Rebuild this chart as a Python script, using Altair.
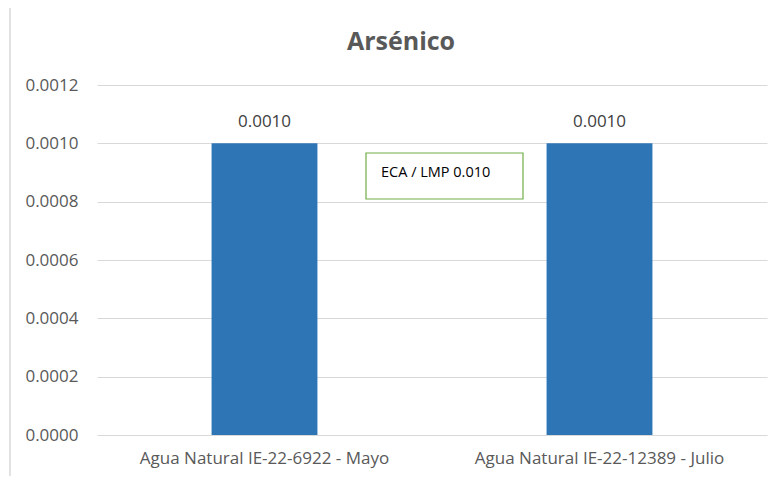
import altair as alt
import pandas as pd

categories = ["Agua Natural IE-22-6922 - Mayo", "Agua Natural IE-22-12389 - Julio"]
values = [0.0010, 0.0010]
labels = ["0.0010", "0.0010"]
y_ticks = [0.0, 0.0002, 0.0004, 0.0006, 0.0008, 0.0010, 0.0012]
note_text = ["ECA / LMP 0.010"]
title_text = "Arsénico"

df = pd.DataFrame({"cat": categories, "val": values, "lab": labels})

FONT = "Open Sans"
GRAY = "#595959"

xenc = alt.X("cat:N", sort=categories, title=None,
             scale=alt.Scale(paddingInner=0.684, paddingOuter=0.342),
             axis=alt.Axis(labelAngle=0, labelFont=FONT, labelFontSize=17, labelColor=GRAY,
                           ticks=False, domain=False, labelPadding=15, labelLimit=0, grid=False))
yenc = alt.Y("val:Q", title=None,
             scale=alt.Scale(domain=[0, 0.0012], nice=False),
             axis=alt.Axis(values=y_ticks, format=".4f", labelFont=FONT, labelFontSize=17,
                           labelColor=GRAY, ticks=False, domain=False, labelPadding=19,
                           gridColor="#d9d9d9", gridWidth=1))

line_df = pd.DataFrame({"a": [0]})
frame_top = alt.Chart(line_df).mark_rule(stroke="#d9d9d9", strokeWidth=1.5).encode(
    x=alt.value(-87), x2=alt.value(690), y=alt.value(-79))
frame_left = alt.Chart(line_df).mark_rule(stroke="#d9d9d9", strokeWidth=1.5).encode(
    x=alt.value(-87), y=alt.value(-79), y2=alt.value(400))

bars = alt.Chart(df).mark_bar(color="#2E75B6").encode(x=xenc, y=yenc)

bar_text = alt.Chart(df).mark_text(font=FONT, fontSize=17, color="#404040", dy=-21).encode(
    x=alt.X("cat:N", sort=categories), y=alt.Y("val:Q"), text="lab:N")

note_df = pd.DataFrame({"t": note_text})
note_box = alt.Chart(note_df).mark_rect(fill="white", stroke="#70AD47", strokeWidth=1.2).encode(
    x=alt.value(269), x2=alt.value(426), y=alt.value(68), y2=alt.value(114))
note = alt.Chart(note_df).mark_text(font=FONT, fontSize=14.5, color="#000000", align="left",
                                     baseline="middle").encode(
    x=alt.value(284), y=alt.value(88), text="t:N")

title = alt.Chart(pd.DataFrame({"t": [title_text]})).mark_text(
    font=FONT, fontSize=25, fontWeight="bold", color=GRAY, align="center", baseline="middle").encode(
    x=alt.value(304), y=alt.value(-43), text="t:N")

chart = alt.layer(frame_top, frame_left, bars, bar_text, note_box, note, title).properties(
    width=670, height=350,
    padding={"left": 89, "top": 77, "right": 6, "bottom": 41},
    autosize="none",
).configure(background="white").configure_view(stroke=None).configure_axisX(grid=False)

chart.save("out.html", embed_options={"renderer": "svg", "actions": False})
